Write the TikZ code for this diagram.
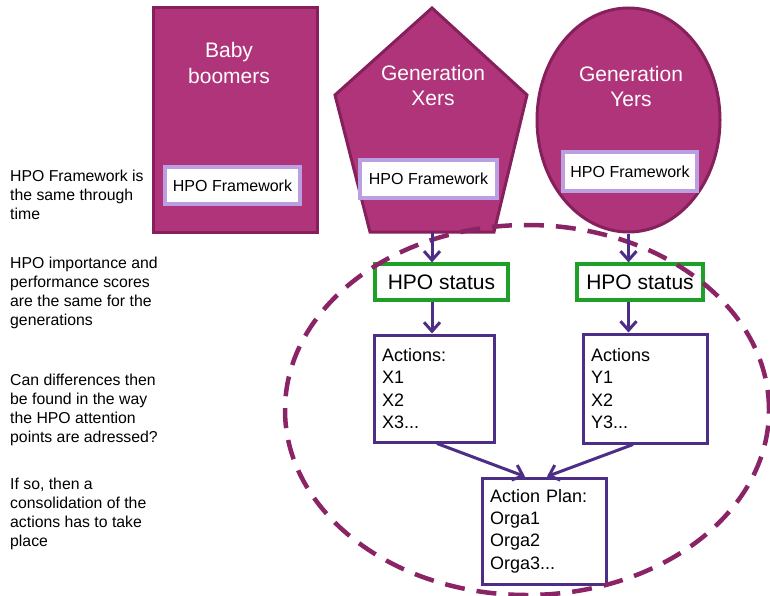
\documentclass[tikz,border=0pt]{standalone}
\usepackage{fontspec}
\setmainfont{Liberation Sans}
\usetikzlibrary{shapes.geometric,arrows.meta}
\definecolor{magfill}{RGB}{176,52,122}
\definecolor{magline}{RGB}{134,32,92}
\definecolor{lav}{RGB}{186,160,226}
\definecolor{grn}{RGB}{30,160,40}
\definecolor{purp}{RGB}{76,46,134}
\definecolor{dashc}{RGB}{138,36,102}
\begin{document}
\begin{tikzpicture}[x=1pt,y=-1pt,
  magshape/.style={fill=magfill,draw=magline,line width=3pt,inner sep=0pt},
  gentitle/.style={text=white,font=\fontsize{21}{25.5}\selectfont,align=center,inner sep=0pt},
  fwbox/.style={draw=lav,fill=white,line width=3.2pt,font=\fontsize{16}{19}\selectfont,inner sep=0pt},
  statbox/.style={draw=grn,fill=white,line width=3.2pt,font=\fontsize{21}{25}\selectfont,inner sep=0pt},
  actbox/.style={draw=purp,fill=white,line width=3pt,font=\fontsize{18}{22.3}\selectfont,align=left,inner xsep=8pt,inner ysep=0pt},
  note/.style={font=\fontsize{15.8}{19}\selectfont,align=left,anchor=north west,inner sep=0pt},
  arr/.style={draw=purp,line width=3pt,-{Straight Barb[length=9pt,width=16pt]}},
  dashring/.style={draw=dashc,line width=4.5pt,dash pattern=on 20pt off 12pt}
]
\useasboundingbox (0,0) rectangle (770,596);

% generation shapes
\node[magshape, minimum width=164pt, minimum height=224pt] (bb) at (235,120) {};
\draw[magshape] (432,8) -- (527,95) -- (494,232) -- (370,232) -- (335,95) -- cycle;
\coordinate (xbot) at (432,232);
\node[magshape, ellipse, minimum width=183pt, minimum height=224pt] (yers) at (628.5,120) {};

\node[gentitle] (bbt) at (229,63) {Baby\\boomers};
\node[gentitle] (xt) at (433,85.5) {Generation\\Xers};
\node[gentitle] (yt) at (631,86.5) {Generation\\Yers};

\node[fwbox, minimum width=135pt, minimum height=37pt] (fwB) at (232.5,185.5) {HPO Framework};
\node[fwbox, minimum width=137pt, minimum height=38pt] (fwX) at (428.5,179) {HPO Framework};
\node[fwbox, minimum width=134pt, minimum height=39pt] (fwY) at (630,171.5) {HPO Framework};

% status and actions
\node[statbox, minimum width=133pt, minimum height=36pt] (hsL) at (441.5,282) {HPO status};
\node[statbox, minimum width=126pt, minimum height=36pt] (hsR) at (640,282) {HPO status};

\node[actbox, text width=104pt, minimum height=107pt] (actL) at (434,388.5) {Actions:\\X1\\X2\\X3...};
\node[actbox, text width=108pt, minimum height=109pt] (actR) at (645,388.5) {Actions\\Y1\\X2\\Y3...};
\node[actbox, text width=108pt, minimum height=106pt] (plan) at (544,531) {Action Plan:\\Orga1\\Orga2\\Orga3...};

% dashed ring
\node[dashring, ellipse, minimum width=484pt, minimum height=370pt, inner sep=0pt] (ring) at (527,410) {};

% arrows
\draw[arr] (xbot) -- (xbot |- hsL.north);
\draw[arr] (yers.south) -- (yers.south |- hsR.north);
\draw[arr] (xbot |- hsL.south) -- (xbot |- actL.north);
\draw[arr] (yers.south |- hsR.south) -- (yers.south |- actR.north);
\draw[arr] ([xshift=3pt]actL.south) -- ([xshift=-19pt]plan.north);
\draw[arr] ([xshift=-12pt]actR.south) -- ([xshift=3pt]plan.north);

% notes
\node[note] (n1) at (10,169.5) {HPO Framework is\\the same through\\time};
\node[note] (n2) at (10,256.5) {HPO importance and\\performance scores\\are the same for the\\generations};
\node[note] (n3) at (10,373.5) {Can differences then\\be found in the way\\the HPO attention\\points are adressed?};
\node[note] (n4) at (10,477.5) {If so, then a\\consolidation of the\\actions has to take\\place};
\end{tikzpicture}
\end{document}
